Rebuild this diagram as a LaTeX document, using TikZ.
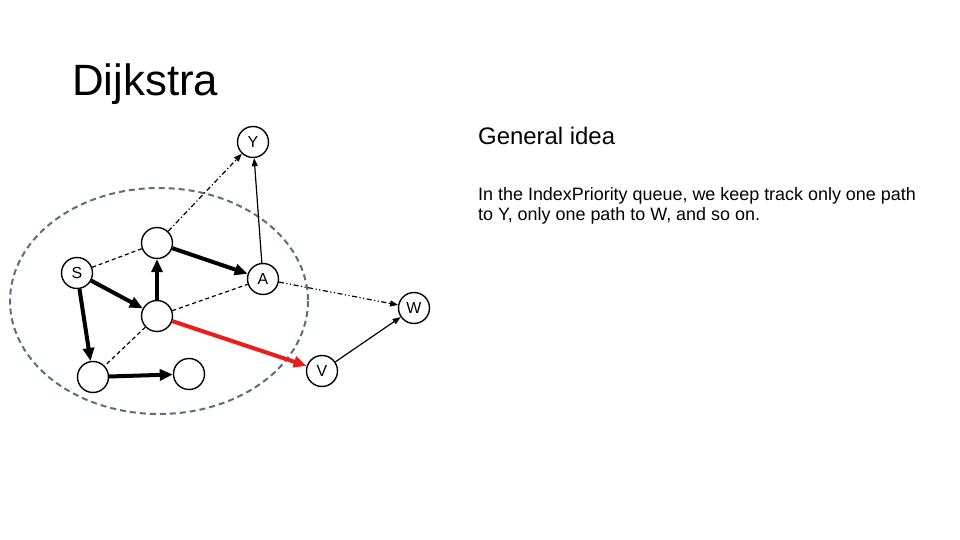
\documentclass[tikz,border=0pt]{standalone}
\usepackage{fontspec}
\setmainfont{Liberation Sans}
\usetikzlibrary{arrows.meta}
\definecolor{ellc}{RGB}{90,110,128}
\definecolor{redarr}{RGB}{232,30,30}
\begin{document}
\begin{tikzpicture}[x=1bp,y=-1bp,
  vtx/.style={circle,draw,line width=1.4bp,minimum size=31bp,inner sep=0pt,font=\fontsize{16}{16}\selectfont},
  thickarr/.style={line width=4bp,-{Triangle[length=13bp,width=11bp]}},
  thinarr/.style={line width=1.2bp,-{Triangle[length=8bp,width=6bp]}},
  dsh/.style={line width=1.2bp,dash pattern=on 4bp off 3bp},
  dashdot/.style={line width=1.2bp,dash pattern=on 5bp off 2.5bp on 1.2bp off 2.5bp},
  dashdotdot/.style={line width=1.2bp,dash pattern=on 5bp off 2.5bp on 1.2bp off 2.5bp on 1.2bp off 2.5bp},
  txt/.style={inner sep=0pt,anchor=base west}]
\useasboundingbox (0,0) rectangle (960,540);
\fill[white] (0,0) rectangle (960,540);
% title and text
\node[txt,font=\fontsize{44}{50}\selectfont] (title) at (72,96) {Dijkstra};
\node[txt,font=\fontsize{24}{28}\selectfont] (gen) at (478,145) {General idea};
\node[txt,font=\fontsize{18}{20.5}\selectfont,align=left] (body) at (478,221)
  {In the IndexPriority queue, we keep track only one path\\to Y, only one path to W, and so on.};
% ellipse
\draw[ellc,line width=2bp,dash pattern=on 6bp off 4bp] (159,301) ellipse [x radius=149,y radius=113];
% vertices
\node[vtx] (Y) at (253,142) {Y};
\node[vtx] (n1) at (157,243) {};
\node[vtx] (S) at (77,273) {S};
\node[vtx] (A) at (263,279) {A};
\node[vtx] (n2) at (157,316) {};
\node[vtx] (W) at (414,308) {W};
\node[vtx] (V) at (322,371) {V};
\node[vtx] (n3) at (93,377) {};
\node[vtx] (n4) at (189,374) {};
% edges
\draw[dsh] (S) -- (n1);
\draw[dsh] (n2) -- (A);
\draw[dsh] (n2) -- (n3);
\draw[thickarr] (S) -- (n2);
\draw[thickarr] (S) -- (n3);
\draw[thickarr] (n2) -- (n1);
\draw[thickarr] (n1) -- (A);
\draw[thickarr] (n3) -- (n4);
\draw[thickarr,redarr] (n2) -- (V);
\draw[thinarr,dashdot] (n1) -- (Y);
\draw[thinarr] (A) -- (Y);
\draw[thinarr,dashdotdot] (A) -- (W);
\draw[thinarr] (V) -- (W);
\end{tikzpicture}
\end{document}
